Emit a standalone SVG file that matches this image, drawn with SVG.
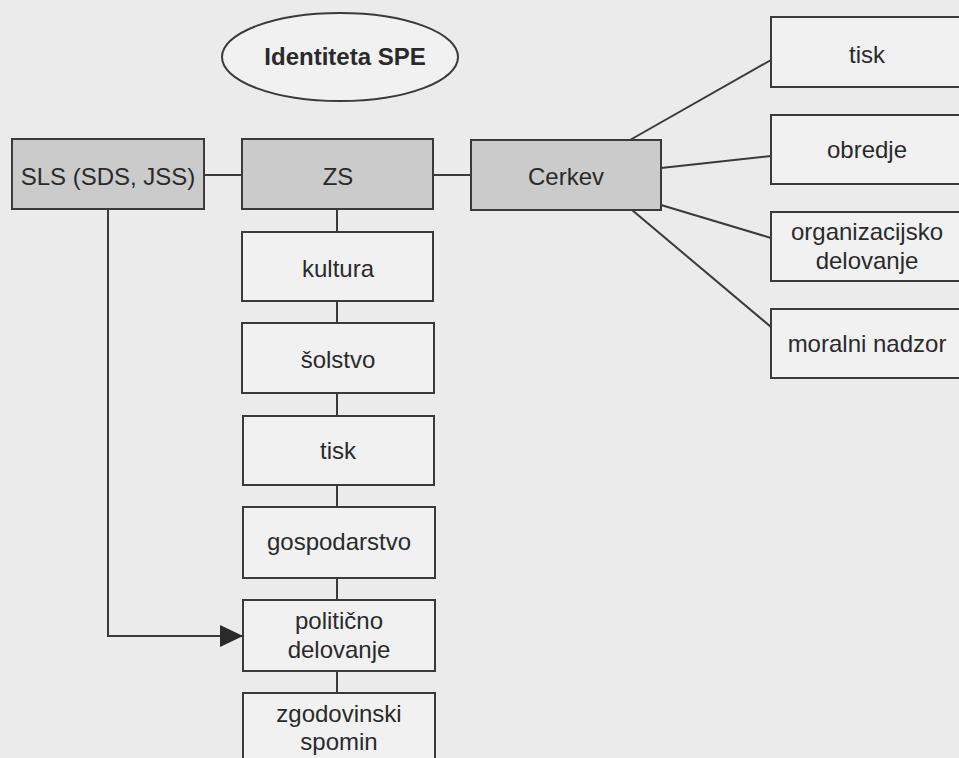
<svg xmlns="http://www.w3.org/2000/svg" width="959" height="758" viewBox="0 0 959 758">
<style>
.bg{fill:#ebebeb}
.box{fill:#f1f1f1;stroke:#3a3a3a;stroke-width:2}
.dark{fill:#cbcbcb;stroke:#3a3a3a;stroke-width:2}
.t{font-family:"Liberation Sans",Arial,sans-serif;font-size:24px;fill:#2a2a2a;text-anchor:middle}
.b{font-weight:bold;font-size:24px}
.c{fill:none;stroke:#3a3a3a;stroke-width:2}
</style>
<defs>
<marker id="arr" markerWidth="24" markerHeight="22" refX="23" refY="11" orient="auto" markerUnits="userSpaceOnUse">
<path d="M0,0 L23,11 L0,22 Z" fill="#2a2a2a"/>
</marker>
</defs>
<rect class="bg" x="0" y="0" width="959" height="758"/>
<g id="connectors">
<line class="c" x1="204" y1="175" x2="242" y2="175"/>
<line class="c" x1="433" y1="175" x2="472" y2="175"/>
<line class="c" x1="630" y1="140" x2="771" y2="60"/>
<line class="c" x1="661" y1="168" x2="771" y2="156"/>
<line class="c" x1="661" y1="205" x2="771" y2="238"/>
<line class="c" x1="632" y1="210" x2="771" y2="327"/>
<line class="c" x1="337" y1="209" x2="337" y2="232"/>
<line class="c" x1="337" y1="301" x2="337" y2="323"/>
<line class="c" x1="337" y1="393" x2="337" y2="416"/>
<line class="c" x1="337" y1="485" x2="337" y2="507"/>
<line class="c" x1="337" y1="578" x2="337" y2="600"/>
<line class="c" x1="337" y1="671" x2="337" y2="693"/>
<polyline class="c" points="108,209 108,636 243,636" marker-end="url(#arr)"/>
</g>
<g id="identiteta">
<ellipse cx="340" cy="57" rx="118" ry="44" fill="#f1f1f1" stroke="#3a3a3a" stroke-width="2"/>
<text class="t b" x="345" y="65">Identiteta SPE</text>
</g>
<g id="sls">
<rect class="dark" x="12" y="139" width="192" height="70"/>
<text class="t" x="108" y="185">SLS (SDS, JSS)</text>
</g>
<g id="zs">
<rect class="dark" x="242" y="139" width="191" height="70"/>
<text class="t" x="338" y="185">ZS</text>
</g>
<g id="cerkev">
<rect class="dark" x="471" y="140" width="190" height="70"/>
<text class="t" x="566" y="185">Cerkev</text>
</g>
<g id="c-tisk">
<rect class="box" x="771" y="17" width="192" height="70"/>
<text class="t" x="867" y="63">tisk</text>
</g>
<g id="c-obredje">
<rect class="box" x="771" y="115" width="192" height="69"/>
<text class="t" x="867" y="158">obredje</text>
</g>
<g id="c-org">
<rect class="box" x="771" y="212" width="192" height="69"/>
<text class="t" x="867" y="240">organizacijsko</text>
<text class="t" x="867" y="269">delovanje</text>
</g>
<g id="c-moralni">
<rect class="box" x="771" y="309" width="192" height="69"/>
<text class="t" x="867" y="352">moralni nadzor</text>
</g>
<g id="kultura">
<rect class="box" x="242" y="232" width="191" height="69"/>
<text class="t" x="338" y="277">kultura</text>
</g>
<g id="solstvo">
<rect class="box" x="242" y="323" width="192" height="70"/>
<text class="t" x="338" y="368">šolstvo</text>
</g>
<g id="tisk">
<rect class="box" x="243" y="416" width="191" height="69"/>
<text class="t" x="338" y="459">tisk</text>
</g>
<g id="gospodarstvo">
<rect class="box" x="243" y="507" width="192" height="71"/>
<text class="t" x="339" y="550">gospodarstvo</text>
</g>
<g id="politicno">
<rect class="box" x="243" y="600" width="192" height="71"/>
<text class="t" x="339" y="629">politično</text>
<text class="t" x="339" y="658">delovanje</text>
</g>
<g id="zgodovinski">
<rect class="box" x="243" y="693" width="192" height="80"/>
<text class="t" x="339" y="722">zgodovinski</text>
<text class="t" x="339" y="750">spomin</text>
</g>
</svg>
